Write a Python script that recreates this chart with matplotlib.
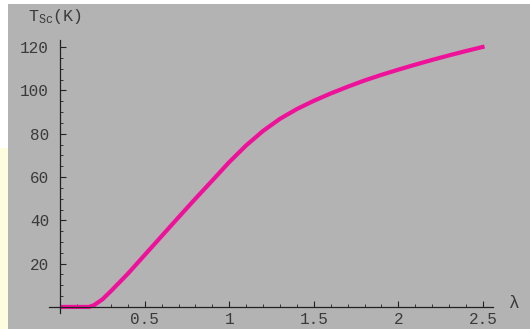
import numpy as np
import matplotlib
matplotlib.use('Agg')
import matplotlib.pyplot as plt
from matplotlib.patches import Rectangle
from matplotlib.ticker import MultipleLocator, FixedLocator

# values
lam = [0.0, 0.1, 0.17, 0.2, 0.25, 0.3, 0.35, 0.4, 0.5, 0.6, 0.7, 0.8, 0.9,
       1.0, 1.1, 1.2, 1.3, 1.4, 1.5, 1.6, 1.7, 1.8, 1.9, 2.0, 2.1, 2.2, 2.3,
       2.4, 2.51]
tsc = [0.0, 0.0, 0.0, 0.8, 3.5, 7.3, 11.3, 15.3, 24.0, 32.7, 41.4, 50.0, 58.4,
       66.9, 74.6, 81.3, 86.9, 91.4, 95.2, 98.6, 101.7, 104.6, 107.2, 109.6,
       111.9, 114.1, 116.2, 118.2, 120.3]
xticks = [0.5, 1, 1.5, 2, 2.5]
xlabels = ['0.5', '1', '1.5', '2', '2.5']
yticks = [20, 40, 60, 80, 100, 120]

plt.rcParams['mathtext.fontset'] = 'custom'
plt.rcParams['mathtext.rm'] = 'Liberation Mono'
plt.rcParams['mathtext.it'] = 'Liberation Mono'

bg = '#b3b3b3'
txt = '#3a3a3a'
mono = 'Liberation Mono'

fig = plt.figure(figsize=(5.3, 3.29), dpi=100, facecolor=bg)
# white frame on top/left, light yellow strip on the lower left
fig.patches.append(Rectangle((0, 1 - 4 / 329), 1, 4 / 329, transform=fig.transFigure,
                             facecolor='white', edgecolor='none'))
fig.patches.append(Rectangle((0, 0), 8 / 530, 1, transform=fig.transFigure,
                             facecolor='white', edgecolor='none'))
fig.patches.append(Rectangle((0, 0), 8 / 530, (329 - 148) / 329, transform=fig.transFigure,
                             facecolor='#fffde0', edgecolor='none'))

ax = fig.add_axes([49 / 530, (329 - 313) / 329, (493 - 49) / 530, (313 - 40) / 329])
ax.set_facecolor(bg)
ax.plot(lam, tsc, color='#ee1199', lw=3.0, solid_capstyle='butt',
        solid_joinstyle='round', clip_on=False)

ax.set_xlim(-0.066, 2.56)
ax.set_ylim(-2.8, 123.3)
for s in ['top', 'right']:
    ax.spines[s].set_visible(False)
ax.spines['left'].set_position(('data', 0))
ax.spines['bottom'].set_position(('data', 0))
for s in ['left', 'bottom']:
    ax.spines[s].set_color('#222222')
    ax.spines[s].set_linewidth(0.9)

ax.xaxis.set_major_locator(FixedLocator(xticks))
ax.set_xticklabels(xlabels, fontfamily=mono, fontsize=11.5, color=txt)
ax.xaxis.set_minor_locator(MultipleLocator(0.1))
ax.yaxis.set_major_locator(FixedLocator(yticks))
ax.set_yticklabels([str(v) for v in yticks], fontfamily=mono, fontsize=11.5, color=txt)
ax.yaxis.set_minor_locator(MultipleLocator(5))
ax.tick_params(which='major', direction='in', length=4, width=0.8, color='#222222')
ax.tick_params(which='minor', direction='in', length=2, width=0.6, color='#222222')
ax.tick_params(axis='x', which='major', pad=4)
ax.tick_params(axis='y', which='major', pad=8)

fig.text(28 / 530, 1 - 16 / 329, r'$\mathrm{T_{Sc}(K)}$', fontsize=12, color=txt,
         va='center', ha='left')
fig.text(514 / 530, 1 - 303 / 329, r'$\lambda$', fontsize=13, color=txt,
         va='center', ha='center', family='DejaVu Serif')

fig.savefig('out.png', dpi=100, facecolor=bg)
